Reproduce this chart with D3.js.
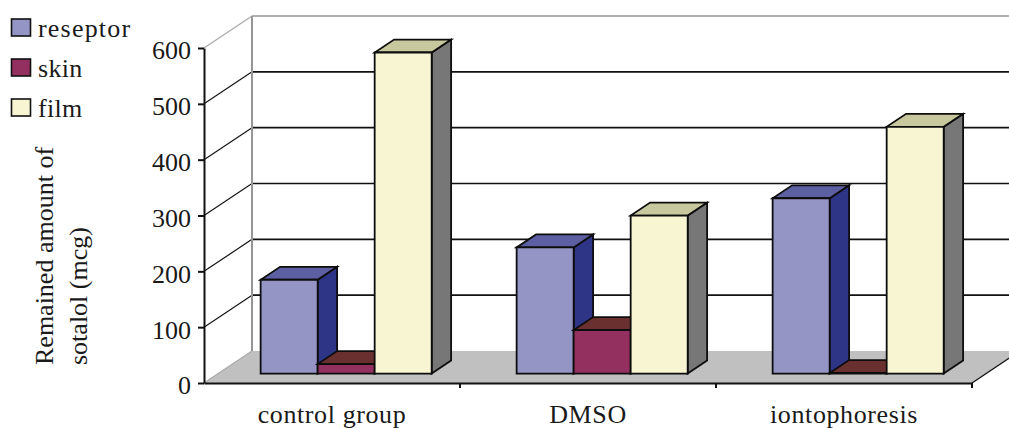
<!DOCTYPE html>
<html>
<head>
<meta charset="utf-8">
<script src="https://cdn.jsdelivr.net/npm/d3@7/dist/d3.min.js"></script>
<style>
html,body{margin:0;padding:0;background:#fff;}
svg{display:block;}
text{font-family:"Liberation Serif","Times New Roman",serif;fill:#1a1a1a;}
</style>
</head>
<body>
<svg id="chart" width="1009" height="428"></svg>
<script>
const categories = ["control group", "DMSO", "iontophoresis"];
const seriesNames = ["reseptor", "skin", "film"];
const reseptor = [168, 226, 314];
const skin = [17, 78, 1];
const film = [575, 283, 442];
const valueTicks = [0, 100, 200, 300, 400, 500, 600];
const titleLines = ["Remained amount of", "sotalol (mcg)"];

const frontColors = ["#9595c5", "#933060", "#f8f5d2"];
const topColors = ["#5d5fa3", "#6a3030", "#c8c89e"];
const sideColors = ["#2e3587", "#4a2030", "#777777"];

const svg = d3.select("#chart");

// Oblique depth of the box: the back wall sits up and to the right of the front plane.
const depthX = 48, depthY = -32;
const plotLeft = 204, plotRight = 972, plotBottom = 383, plotTop = 48;

const x = d3.scaleBand().domain(categories).range([plotLeft, plotRight]);
const y = d3.scaleLinear().domain([0, 600]).range([plotBottom, plotTop]);
const inner = d3.scaleBand().domain(d3.range(seriesNames.length))
  .range([0, x.bandwidth()]).paddingOuter(0.745).paddingInner(0);

const pt = (px, v, d) => [px + depthX * d, y(v) + depthY * d];
const line = d3.line();
const poly = pts => line(pts) + "Z";

// Floor
svg.append("path")
  .attr("d", poly([pt(plotLeft,0,0), pt(plotRight,0,0), pt(plotRight,0,1), pt(plotLeft,0,1)]))
  .attr("fill", "#c0c0c0");
svg.append("path")
  .attr("d", line([pt(plotRight,0,0), pt(plotRight,0,1)]))
  .attr("stroke", "#111").attr("stroke-width", 1.3).attr("fill", "none");

// Gridlines along the side and back walls
const grid = svg.append("g");
valueTicks.forEach(v => {
  const edge = v === 0 || v === 600;
  const col = edge ? "#a8a8a8" : "#111";
  grid.append("path").attr("d", line([pt(plotLeft,v,0), pt(plotLeft,v,1)]))
    .attr("stroke", col).attr("stroke-width", 1.2).attr("fill", "none");
  if (v > 0) {
    grid.append("path").attr("d", line([pt(plotLeft,v,1), pt(plotRight,v,1)]))
      .attr("stroke", v === 600 ? "#969696" : "#111")
      .attr("stroke-width", 1.6).attr("fill", "none");
  }
});
grid.append("path").attr("d", line([pt(plotLeft,0,1), pt(plotLeft,600,1)]))
  .attr("stroke", "#969696").attr("stroke-width", 2).attr("fill", "none");

// Bars, painted left to right so nearer neighbours cover hidden faces
const barNear = 0.295, barFar = 0.70;
const seriesValues = [reseptor, skin, film];
categories.forEach((cat, c) => {
  seriesValues.forEach((vals, s) => {
    const v = vals[c];
    const x0 = x(cat) + inner(s), x1 = x0 + inner.bandwidth();
    const g = svg.append("g")
      .attr("stroke", "#0d0d0d").attr("stroke-width", 1.8).attr("stroke-linejoin", "miter");
    g.append("path").attr("fill", sideColors[s])
      .attr("d", poly([pt(x1,0,barNear), pt(x1,0,barFar), pt(x1,v,barFar), pt(x1,v,barNear)]));
    g.append("path").attr("fill", topColors[s])
      .attr("d", poly([pt(x0,v,barNear), pt(x1,v,barNear), pt(x1,v,barFar), pt(x0,v,barFar)]));
    g.append("path").attr("fill", frontColors[s])
      .attr("d", poly([pt(x0,0,barNear), pt(x1,0,barNear), pt(x1,v,barNear), pt(x0,v,barNear)]));
  });
});

// Value axis
const yAxis = svg.append("g").attr("transform", `translate(${plotLeft},0)`)
  .call(d3.axisLeft(y).tickValues(valueTicks).tickSize(6).tickPadding(7).tickSizeOuter(0));
yAxis.selectAll("path,line").attr("stroke", "#111").attr("stroke-width", 2);
yAxis.selectAll("text").attr("font-size", 26).attr("fill", "#1a1a1a")
  .attr("font-family", '"Liberation Serif",serif').attr("dy", "0.42em");

// Category axis
const xAxis = svg.append("g").attr("transform", `translate(0,${plotBottom})`)
  .call(d3.axisBottom(x).tickSize(0).tickPadding(22).tickSizeOuter(0));
xAxis.select("path").attr("stroke", "#111").attr("stroke-width", 2);
xAxis.selectAll("text").attr("font-size", 26).attr("fill", "#1a1a1a")
  .attr("font-family", '"Liberation Serif",serif').attr("letter-spacing", 0.6);
xAxis.selectAll("line.sep").data(d3.range(1, categories.length + 1)).enter().append("line")
  .attr("class", "sep")
  .attr("x1", i => plotLeft + x.step() * i).attr("x2", i => plotLeft + x.step() * i)
  .attr("y1", 0).attr("y2", 5).attr("stroke", "#111").attr("stroke-width", 2);

// Rotated axis title
titleLines.forEach((t, i) => {
  svg.append("text")
    .attr("transform", `translate(${53 + i * 34},365) rotate(-90)`)
    .attr("font-size", 26).text(t);
});

// Legend
seriesNames.forEach((name, i) => {
  const top = 19 + i * 40;
  svg.append("rect").attr("x", 11.5).attr("y", top).attr("width", 19).attr("height", 17)
    .attr("fill", frontColors[i]).attr("stroke", "#111").attr("stroke-width", 1.6);
  svg.append("text").attr("x", 38).attr("y", top + 18)
    .attr("font-size", 26).attr("letter-spacing", i === 0 ? 1.2 : 0.3).text(name);
});
</script>
</body>
</html>
